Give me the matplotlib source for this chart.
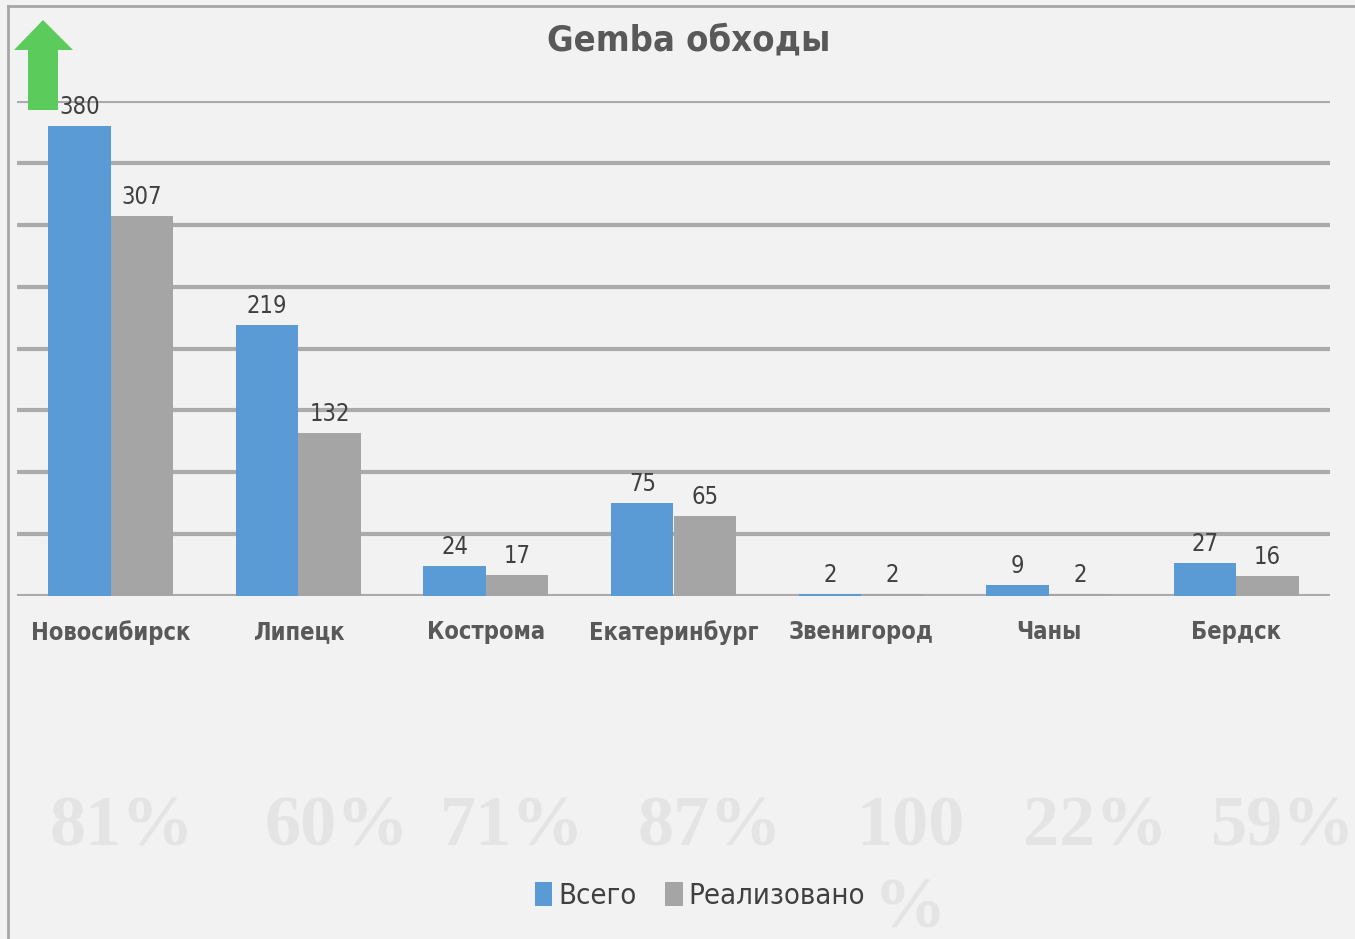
import matplotlib
matplotlib.use("Agg")
import matplotlib.pyplot as plt
import numpy as np
from matplotlib.patches import Polygon
from matplotlib.lines import Line2D

# данные
cities = ['Новосибирск', 'Липецк', 'Кострома', 'Екатеринбург', 'Звенигород', 'Чаны', 'Бердск']
vsego = [380, 219, 24, 75, 2, 9, 27]
realiz = [307, 132, 17, 65, 2, 2, 16]
percents = ['81%', '60%', '71%', '87%', '100\n%', '22%', '59%']

blue = '#5B9BD5'
grey = '#A5A5A5'
bg = '#F2F2F2'
txt = '#404040'

plt.rcParams['font.family'] = ['DejaVu Sans']
plt.rcParams['font.stretch'] = 'condensed'

fig = plt.figure(figsize=(13.55, 9.39), dpi=100, facecolor=bg)
W, H = 1355, 939

def fx(px):
    return px / W

def fy(py):
    return 1 - py / H

ax = fig.add_axes([fx(17), fy(596), fx(1330) - fx(17), fy(101) - fy(596)])
ax.set_facecolor(bg)

x = np.arange(len(cities))
bw = 0.333
b1 = ax.bar(x - bw / 2, vsego, bw, color=blue, label='Всего', zorder=3)
b2 = ax.bar(x + bw / 2, realiz, bw, color=grey, label='Реализовано', zorder=3)

for bars, vals in ((b1, vsego), (b2, realiz)):
    for r, v in zip(bars, vals):
        ax.annotate(str(v), (r.get_x() + r.get_width() / 2, v), xytext=(0, 5),
                    textcoords='offset points', ha='center', va='bottom',
                    fontsize=17, color=txt, zorder=4)

ax.set_xlim(-0.5, len(cities) - 0.5)
ax.set_ylim(0, 400)
ax.set_yticks(np.arange(0, 401, 50))
ax.yaxis.grid(True, color='#ABABAB', linewidth=3, zorder=0)
ax.tick_params(axis='y', left=False, labelleft=False)
ax.set_xticks(x)
ax.set_xticklabels(cities, fontsize=17, fontweight='bold', color='#595959')
ax.tick_params(axis='x', bottom=False, pad=14)
for s in ax.spines.values():
    s.set_visible(False)
ax.set_axisbelow(True)

fig.text(fx(689), fy(40), 'Gemba обходы', ha='center', va='center',
         fontsize=26, fontweight='bold', color='#595959')

# бледные проценты
pct_x = [122, 337, 512, 710, 910, 1095, 1283]
for px, p in zip(pct_x, percents):
    fig.text(fx(px), fy(795), p, ha='center', va='top', fontsize=52,
             fontweight='bold', family='Liberation Serif', color='#E4E4E4',
             linespacing=1.35, zorder=0)

leg = fig.legend(handles=[b1, b2], loc='center', bbox_to_anchor=(fx(700), fy(896)),
                 ncol=2, frameon=False, fontsize=21, handlelength=0.6,
                 handleheight=0.9, handletextpad=0.2, columnspacing=1.0)
for t in leg.get_texts():
    t.set_color(txt)

# зелёная стрелка
arrow = [(14, 50), (43, 20), (73, 50), (58, 50), (58, 110), (28, 110), (28, 50)]
fig.patches.append(Polygon([(fx(a), fy(b)) for a, b in arrow], closed=True,
                           transform=fig.transFigure, facecolor='#5BCB5B',
                           edgecolor='none', zorder=5))

# рамка
fig.lines.append(Line2D([fx(8), fx(8)], [fy(6), 0], transform=fig.transFigure,
                        color='#A6A6A6', linewidth=2))
fig.lines.append(Line2D([fx(8), 1], [fy(6), fy(6)], transform=fig.transFigure,
                        color='#A6A6A6', linewidth=2))

fig.savefig('out.png', dpi=100, facecolor=bg)
